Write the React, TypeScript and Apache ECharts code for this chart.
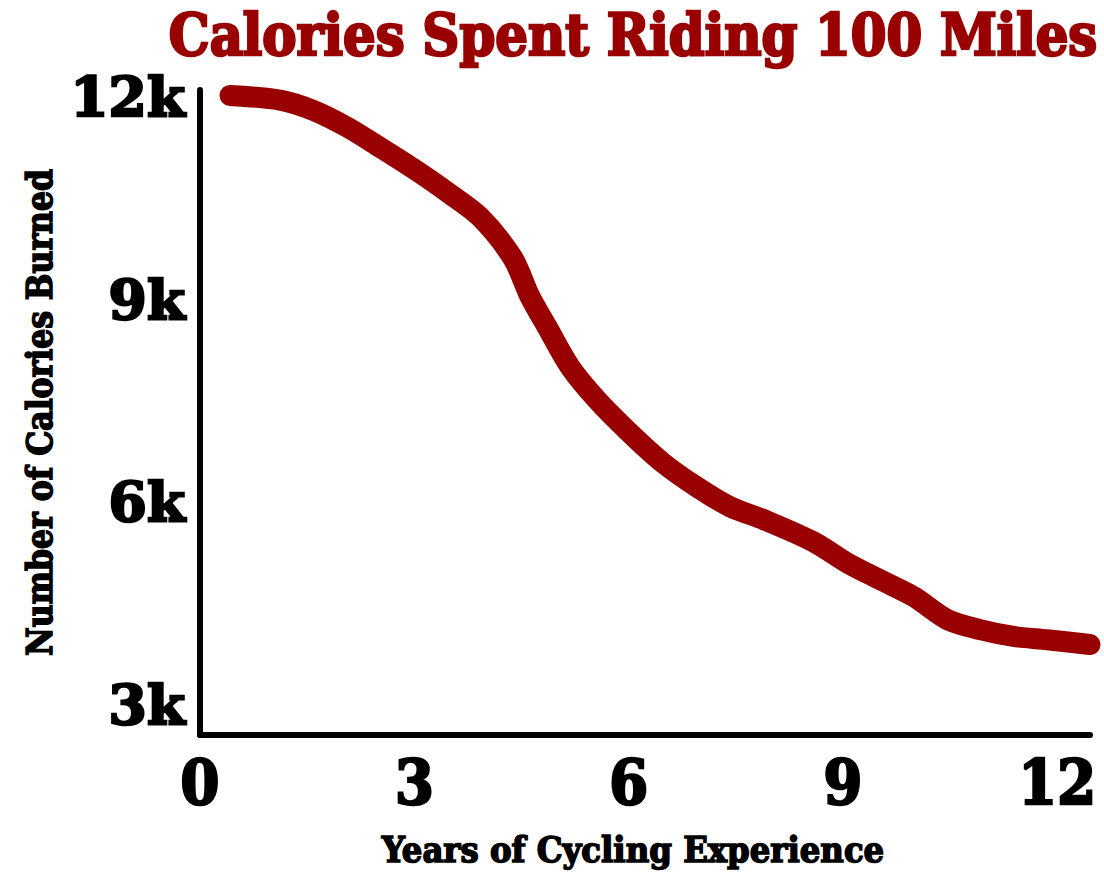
import React, { useEffect, useRef } from "react";
import * as echarts from "echarts";

const years = [0.42, 1.12, 1.58, 2.06, 2.52, 2.98, 3.46, 3.92, 4.38, 4.62, 4.86, 5.18, 5.56, 6.02, 6.48, 6.96, 7.42, 7.89, 8.59, 9.06, 9.52, 9.99, 10.46, 10.92, 11.39, 11.86, 12.46];
const caloriesK = [12.02, 11.95, 11.8, 11.55, 11.25, 10.94, 10.59, 10.22, 9.61, 9.04, 8.59, 8.0, 7.51, 7.02, 6.58, 6.22, 5.93, 5.74, 5.41, 5.1, 4.85, 4.6, 4.26, 4.11, 4.01, 3.96, 3.89];
const xTicks = [0, 3, 6, 9, 12];
const yTicks = [3, 6, 9, 12];

const FONT_C = '"DejaVu Serif Condensed", "DejaVu Serif", serif';
const FONT = '"DejaVu Serif", serif';

export default function App() {
  const ref = useRef<HTMLDivElement>(null);
  useEffect(() => {
    if (!ref.current) return;
    const chart = echarts.init(ref.current, null, { renderer: "svg" });
    chart.setOption({
      animation: false,
      backgroundColor: "#ffffff",
      title: {
        text: "Calories Spent Riding 100 Miles",
        left: 628,
        top: 1,
        textAlign: "center",
        textStyle: {
          fontFamily: FONT_C,
          fontWeight: "bold",
          fontSize: 57,
          color: "#990000",
          textBorderColor: "#990000",
          textBorderWidth: 2.5,
        },
      },
      grid: { left: 200, right: 14, top: 90, bottom: 151 },
      xAxis: {
        type: "value",
        min: 0,
        max: 12.46,
        name: "Years of Cycling Experience",
        nameLocation: "middle",
        nameGap: 96,
        nameTextStyle: {
          fontFamily: FONT_C,
          fontWeight: "bold",
          fontSize: 36,
          color: "#000",
          textBorderColor: "#000",
          textBorderWidth: 1.5,
          padding: [0, 24, 0, 0],
        },
        axisLine: { show: true, lineStyle: { color: "#000", width: 6, cap: "round" } },
        axisTick: { show: false },
        splitLine: { show: false },
        axisLabel: {
          customValues: xTicks,
          margin: 16,
          fontFamily: FONT_C,
          fontWeight: "bold",
          fontSize: 62,
          color: "#000",
          textBorderColor: "#000",
          textBorderWidth: 2.5,
          formatter: (v: number) => String(v),
        },
      },
      yAxis: {
        type: "value",
        min: 2.55,
        max: 12.1,
        name: "Number of Calories Burned",
        nameLocation: "middle",
        nameGap: 133,
        nameRotate: 90,
        nameTextStyle: {
          fontFamily: FONT_C,
          fontWeight: "bold",
          fontSize: 35,
          color: "#000",
          textBorderColor: "#000",
          textBorderWidth: 1.5,
        },
        axisLine: { show: true, lineStyle: { color: "#000", width: 6, cap: "round" } },
        axisTick: { show: false },
        splitLine: { show: false },
        axisLabel: {
          customValues: yTicks,
          margin: 15,
          fontFamily: FONT,
          fontWeight: "bold",
          fontSize: 55,
          color: "#000",
          textBorderColor: "#000",
          textBorderWidth: 2.5,
          formatter: (v: number) => v + "k",
        },
      },
      series: [
        {
          type: "line",
          data: years.map((x, i) => [x, caloriesK[i]]),
          smooth: 0.3,
          showSymbol: false,
          clip: false,
          lineStyle: { color: "#990000", width: 21, cap: "round", join: "round" },
        },
      ],
    });
    return () => chart.dispose();
  }, []);
  return <div ref={ref} style={{ position: "absolute", left: 0, top: 0, width: 1104, height: 886 }} />;
}
